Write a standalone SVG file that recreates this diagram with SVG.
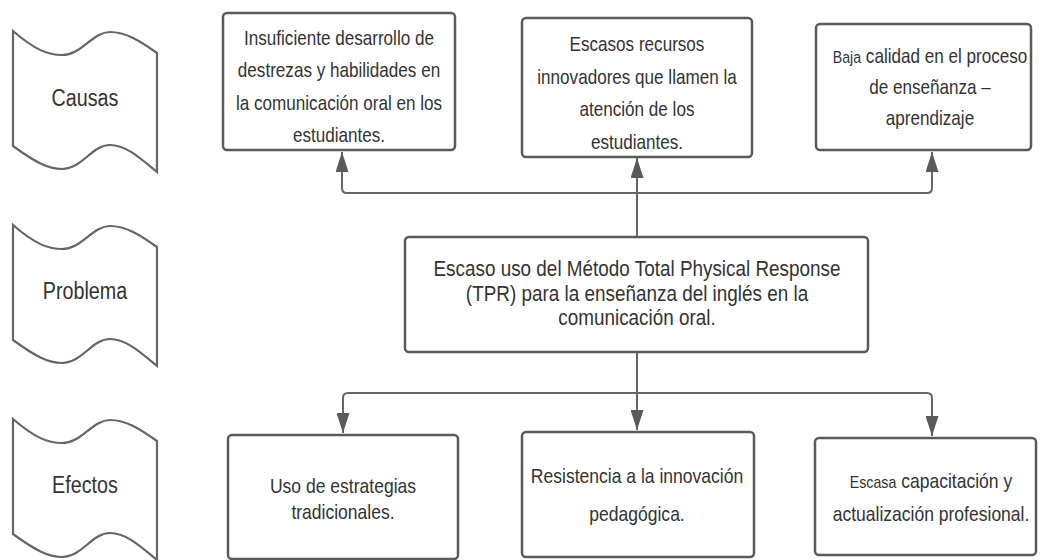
<svg xmlns="http://www.w3.org/2000/svg" width="1041" height="560" viewBox="0 0 1041 560">
<style>
.box{fill:#fff;stroke:#5a5a5a;stroke-width:2.5}
.wave{fill:#fff;stroke:#666;stroke-width:2.2}
.ln{fill:none;stroke:#666;stroke-width:2}
text{font-family:"Liberation Sans",Arial,sans-serif;fill:#333;text-anchor:middle}
.t{font-size:20.5px}
.tp{font-size:22.5px}
.tw{font-size:23.5px}
.te{font-size:21px}
.sm{font-size:17px}
</style>
<defs>
<marker id="ah" markerUnits="userSpaceOnUse" markerWidth="20" markerHeight="13" refX="20" refY="6.5" orient="auto">
<path d="M0,0 L20,6.5 L0,13 Z" fill="#5a5a5a"/>
</marker>
<path id="wv" d="M13,31 C35,50 48,55 62,55 C82,55 92,32 110,32 C126,32 140,41 157,53 L157,172 C140,158 126,145 110,145 C92,145 82,169 62,169 C48,169 35,162 13,146 Z"/>
</defs>

<g id="label-causas">
<use href="#wv" class="wave"/>
<text class="tw" transform="translate(85,106) scale(0.84,1)">Causas</text>
</g>
<g id="label-problema">
<use href="#wv" class="wave" transform="translate(0,194)"/>
<text class="tw" transform="translate(85,299) scale(0.84,1)">Problema</text>
</g>
<g id="label-efectos">
<use href="#wv" class="wave" transform="translate(0,388)"/>
<text class="tw" transform="translate(85,493) scale(0.84,1)">Efectos</text>
</g>

<g id="connectors">
<path class="ln" d="M637,237 L637,193"/>
<path class="ln" d="M637,193 L347,193 Q342,193 342,188 L342,152" marker-end="url(#ah)"/>
<path class="ln" d="M637,193 L927,193 Q932,193 932,188 L932,152" marker-end="url(#ah)"/>
<path class="ln" d="M637,193 L637,158" marker-end="url(#ah)"/>
<path class="ln" d="M637,352 L637,393"/>
<path class="ln" d="M637,393 L348,393 Q343,393 343,398 L343,433" marker-end="url(#ah)"/>
<path class="ln" d="M637,393 L927,393 Q932,393 932,398 L932,436" marker-end="url(#ah)"/>
<path class="ln" d="M637,393 L637,430" marker-end="url(#ah)"/>
</g>

<g id="cause1">
<rect class="box" x="223" y="13" width="232" height="137" rx="4"/>
<text class="t" transform="translate(339,0) scale(0.834,1)"><tspan x="0" y="45">Insuficiente desarrollo de</tspan><tspan x="0" y="77">destrezas y habilidades en</tspan><tspan x="0" y="110">la comunicación oral en los</tspan><tspan x="0" y="142">estudiantes.</tspan></text>
</g>
<g id="cause2">
<rect class="box" x="522" y="18" width="230" height="139" rx="4"/>
<text class="t" transform="translate(637,0) scale(0.834,1)"><tspan x="0" y="51">Escasos recursos</tspan><tspan x="0" y="84">innovadores que llamen la</tspan><tspan x="0" y="116">atención de los</tspan><tspan x="0" y="149">estudiantes.</tspan></text>
</g>
<g id="cause3">
<rect class="box" x="816" y="24" width="215" height="126" rx="4"/>
<text class="t" transform="translate(930,0) scale(0.834,1)"><tspan x="0" y="63"><tspan class="sm">Baja</tspan> calidad en el proceso</tspan><tspan x="0" y="94">de enseñanza –</tspan><tspan x="0" y="125">aprendizaje</tspan></text>
</g>

<g id="problem">
<rect class="box" x="405" y="237" width="463" height="115" rx="4"/>
<text class="tp" transform="translate(637,0) scale(0.84,1)"><tspan x="0" y="276">Escaso uso del Método Total Physical Response</tspan><tspan x="0" y="301">(TPR) para la enseñanza del inglés en la</tspan><tspan x="0" y="325">comunicación oral.</tspan></text>
</g>

<g id="effect1">
<rect class="box" x="228" y="435" width="230" height="124" rx="4"/>
<text class="te" transform="translate(343,0) scale(0.835,1)"><tspan x="0" y="493">Uso de estrategias</tspan><tspan x="0" y="519">tradicionales.</tspan></text>
</g>
<g id="effect2">
<rect class="box" x="522" y="432" width="232" height="125" rx="4"/>
<text class="te" transform="translate(637,0) scale(0.835,1)"><tspan x="0" y="483">Resistencia a la innovación</tspan><tspan x="0" y="521">pedagógica.</tspan></text>
</g>
<g id="effect3">
<rect class="box" x="815" y="438" width="221" height="117" rx="4"/>
<text class="te" transform="translate(931,0) scale(0.835,1)"><tspan x="0" y="488"><tspan class="sm">Escasa</tspan> capacitación y</tspan><tspan x="0" y="521">actualización profesional.</tspan></text>
</g>
</svg>
